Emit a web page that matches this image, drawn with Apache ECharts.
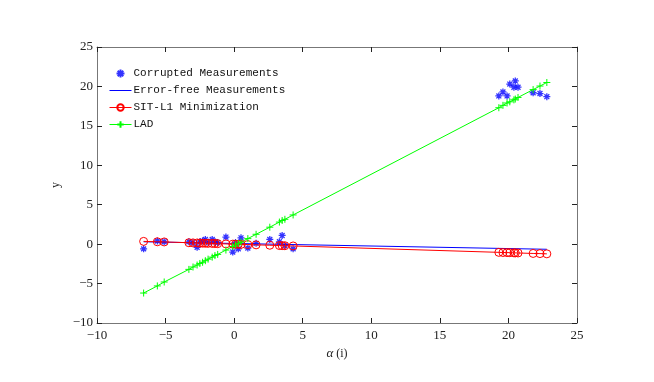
<!DOCTYPE html>
<html style="height: 100%">
<head>
<meta charset="utf-8">
</head>
<body style="height: 100%; margin: 0; background: #fff">
<div id="container" style="width: 654px; height: 382px"></div>
<script type="text/javascript" src="https://cdn.jsdelivr.net/npm/echarts@6/dist/echarts.min.js"></script>
<script type="text/javascript">
// x positions of the measurements
var xs = [-6.6, -5.6, -5.1, -3.3, -3.0, -2.7, -2.5, -2.3, -2.1, -1.9, -1.6, -1.4, -1.2,
          -0.6, -0.1, 0.1, 0.3, 0.5, 1.0, 1.6, 2.6, 3.3, 3.5, 3.7, 4.3,
          19.3, 19.6, 19.9, 20.1, 20.4, 20.5, 20.7, 21.8, 22.3, 22.8];
var corrupted = [-0.6, 0.4, 0.3, 0.3, 0.2, -0.4, 0.3, 0.4, 0.6, 0.2, 0.6, 0.3, 0.2,
                 0.9, -1.0, 0.2, -0.6, 0.8, -0.5, 0.1, 0.6, 0.3, 1.1, -0.2, -0.6,
                 18.8, 19.3, 18.8, 20.3, 19.9, 20.7, 19.9, 19.2, 19.1, 18.7];
var sitL1 = [0.35, 0.3, 0.28, 0.18, 0.16, 0.15, 0.13, 0.12, 0.11, 0.1, 0.09, 0.08, 0.06,
             0.03, 0.0, -0.01, -0.02, -0.03, -0.05, -0.09, -0.14, -0.18, -0.19, -0.2, -0.23,
             -1.04, -1.06, -1.07, -1.08, -1.1, -1.11, -1.12, -1.18, -1.2, -1.23];
var lad = [-6.2, -5.3, -4.8, -3.2, -2.9, -2.65, -2.45, -2.3, -2.1, -1.9, -1.65, -1.45, -1.3,
           -0.75, -0.3, -0.1, 0.07, 0.25, 0.7, 1.25, 2.15, 2.8, 3.0, 3.15, 3.7,
           17.3, 17.6, 17.9, 18.05, 18.3, 18.4, 18.6, 19.6, 20.05, 20.5];
var errorFreeX = [-6.6, 22.8];
var errorFree = [0.3, -0.65];

function pairs(x, y) {
    var out = [];
    for (var i = 0; i < x.length; i++) out.push([x[i], y[i]]);
    return out;
}

var asterisk = 'path://M5,0L5,10M0,5L10,5M1.5,1.5L8.5,8.5M1.5,8.5L8.5,1.5';
var plus = 'path://M5,0L5,10M0,5L10,5';
var tickFont = { fontFamily: 'Liberation Serif', fontSize: 13, color: '#222' };
function minus(v) { return String(v).replace('-', '\u2212'); }

var dom = document.getElementById('container');
var myChart = echarts.init(dom);
var option = {
    animation: false,
    backgroundColor: '#fff',
    grid: { left: 97, right: 77, top: 47, bottom: 59 },
    legend: {
        orient: 'vertical',
        left: 104,
        top: 63,
        itemGap: 6,
        itemWidth: 22,
        itemHeight: 8,
        lineStyle: { width: 1 },
        textStyle: { fontFamily: 'Liberation Mono', fontSize: 11, color: '#111', padding: [0, 0, 0, -3] },
        data: [
            { name: 'Corrupted Measurements' },
            { name: 'Error-free Measurements', itemStyle: { opacity: 0 } },
            { name: 'SIT-L1 Minimization' },
            { name: 'LAD' }
        ]
    },
    xAxis: [{
        type: 'value', min: -10, max: 25, interval: 5,
        name: '{a|\u03b1} (i)', nameLocation: 'middle', nameGap: 24,
        nameTextStyle: {
            fontFamily: 'Liberation Serif', fontSize: 12, color: '#222',
            rich: { a: { fontFamily: 'Liberation Serif', fontStyle: 'italic', fontSize: 13, color: '#222' } }
        },
        axisLine: { onZero: false, lineStyle: { color: '#777' } },
        axisTick: { inside: true, length: 5, lineStyle: { color: '#222' } },
        axisLabel: Object.assign({ margin: 6, formatter: minus }, tickFont),
        splitLine: { show: false }
    }, {
        type: 'value', min: -10, max: 25, interval: 5, position: 'top',
        axisLine: { onZero: false, lineStyle: { color: '#777' } },
        axisTick: { inside: true, length: 5, lineStyle: { color: '#222' } },
        axisLabel: { show: false },
        splitLine: { show: false }
    }],
    yAxis: [{
        type: 'value', min: -10, max: 25, interval: 5,
        name: 'y', nameLocation: 'middle', nameGap: 26, nameRotate: 90,
        nameTextStyle: { fontFamily: 'Liberation Serif', fontSize: 12, color: '#222' },
        axisLine: { onZero: false, lineStyle: { color: '#777' } },
        axisTick: { inside: true, length: 5, lineStyle: { color: '#222' } },
        axisLabel: Object.assign({ margin: 4, formatter: minus }, tickFont),
        splitLine: { show: false }
    }, {
        type: 'value', min: -10, max: 25, interval: 5, position: 'right',
        axisLine: { onZero: false, lineStyle: { color: '#777' } },
        axisTick: { inside: true, length: 5, lineStyle: { color: '#222' } },
        axisLabel: { show: false },
        splitLine: { show: false }
    }],
    series: [{
        name: 'Corrupted Measurements',
        type: 'scatter',
        data: pairs(xs, corrupted),
        symbol: asterisk,
        symbolSize: 7,
        itemStyle: { color: '#0000ff', borderColor: '#0000ff', borderWidth: 1.3 }
    }, {
        name: 'Error-free Measurements',
        type: 'line',
        data: pairs(errorFreeX, errorFree),
        symbol: 'none',
        lineStyle: { color: '#0000ff', width: 1 },
        itemStyle: { color: '#0000ff' }
    }, {
        name: 'SIT-L1 Minimization',
        type: 'line',
        data: pairs(xs, sitL1),
        symbol: 'circle',
        symbolSize: 8,
        showAllSymbol: true,
        lineStyle: { color: '#ff0000', width: 1 },
        itemStyle: { color: 'rgba(0,0,0,0)', borderColor: '#ff0000', borderWidth: 1 }
    }, {
        name: 'LAD',
        type: 'line',
        data: pairs(xs, lad),
        symbol: plus,
        symbolSize: 7,
        showAllSymbol: true,
        lineStyle: { color: '#00ff00', width: 1 },
        itemStyle: { color: '#00ff00', borderColor: '#00ff00', borderWidth: 1 }
    }]
};
myChart.setOption(option);
</script>
</body>
</html>
